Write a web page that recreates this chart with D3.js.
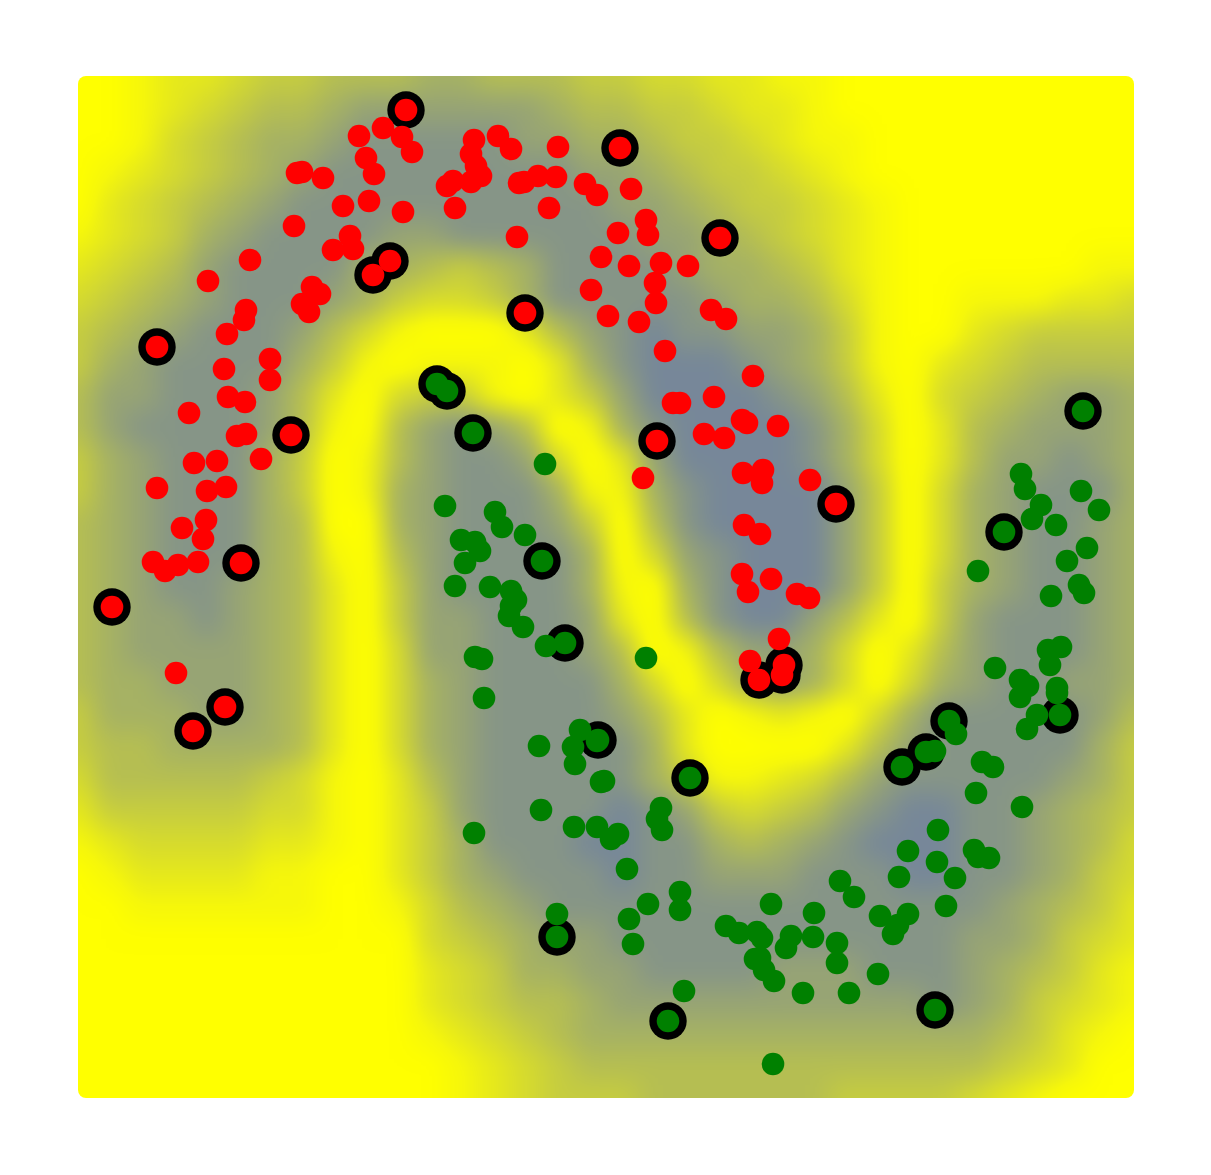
<!DOCTYPE html>
<html>
<head>
<meta charset="utf-8">
<script src="https://cdn.jsdelivr.net/npm/d3@7"></script>
<style>
html, body { margin: 0; padding: 0; background: #fff; }
svg { display: block; }
</style>
</head>
<body>
<div id="plot"></div>
<script>
// classifier field, one digit per sample
// 0 = on the margin (slate grey), 9 = far from it or on the boundary (yellow)
var fieldRows = [
"9987765544433444556677889999999999",
"9987654432222223445567789999999999",
"9986543321111122334556788999999999",
"9876543211111111223455678999999999",
"9765432111111111122345567899999999",
"8765321111221111112234567899999999",
"7654211113345431111233457899999988",
"6543211123566531111123346899888776",
"5432111246899974210112235899765555",
"5321111358988897310001235897654444",
"4221112479655897520000124796543223",
"4211112489421249831000013697432223",
"5321113598421126972000013697422123",
"5321113598321113883100002596321113",
"4321113499321112594100002596321123",
"4321113489421111396210002596321123",
"4321123479521111389310002595321123",
"4322123479522111279410024795211123",
"4322223479622111249842236974211123",
"4332223479632111136963236963211223",
"5333223479632111124798789631111124",
"5443333479632111113799997421111135",
"6444445689742111113588764211111235",
"7555556689752111101256542100112345",
"8766667789753111001134321000112346",
"9877778899753211101122211100112356",
"9988888899864321111111111111123457",
"9999999999965432211111111111223567",
"9999999999976533221111222111234578",
"9999999999976544322222222221235678",
"9999999999987654333333333333345789",
"9999999999998765444444444444456799",
"9999999999998765554444445555678999"
];

// points of the two moons, [x, y], in plot units
var redPoints = [
[281,962],[305,970],[324,961],[334,946],[288,940],[296,924],[219,925],[224,926],[245,920],[265,892],
[291,897],[325,886],[216,872],[272,862],[255,848],[275,849],[172,838],[130,817],[234,811],[242,804],
[224,794],[231,786],[168,788],[166,778],[149,764],[192,739],[146,729],[192,718],[150,701],[167,696],
[111,685],[159,662],[168,664],[183,639],[116,635],[139,637],[79,610],[129,607],[148,611],[128,578],
[104,570],[125,559],[75,536],[87,527],[100,533],[120,536],[98,425],[396,958],[420,962],[433,949],
[393,944],[398,932],[403,922],[393,916],[375,917],[369,912],[377,890],[441,915],[446,916],[460,922],
[478,921],[480,951],[507,914],[519,903],[553,909],[471,890],[439,861],[568,878],[540,865],[570,863],
[523,841],[551,832],[583,835],[610,832],[577,815],[513,808],[578,795],[530,782],[561,776],[633,788],
[648,779],[587,747],[675,722],[595,695],[602,695],[636,701],[664,678],[669,675],[700,672],[626,664],
[646,660],[565,620],[665,625],[685,628],[684,615],[732,618],[666,573],[682,564],[664,524],[693,519],
[670,506],[719,504],[731,500],[701,459],[672,437]
];
var redSupport = [
[328,988],[542,950],[642,860],[312,837],[295,823],[447,785],[79,751],[213,663],[579,657],[758,594],
[163,535],[34,491],[147,391],[115,367],[681,418],[706,433],[704,423]
];
var greenPoints = [
[467,634],[367,592],[417,586],[424,571],[447,563],[383,558],[397,556],[402,547],[387,535],[377,512],
[412,511],[433,507],[438,498],[433,492],[431,482],[445,471],[468,452],[397,441],[404,439],[568,440],
[406,400],[461,352],[495,351],[502,368],[497,334],[519,357],[523,316],[526,317],[463,288],[396,265],
[496,271],[519,271],[540,264],[533,259],[583,290],[579,279],[584,268],[549,229],[602,206],[602,188],
[570,194],[551,179],[479,184],[555,154],[606,107],[648,172],[661,165],[679,166],[684,160],[693,194],
[713,162],[708,150],[735,161],[736,185],[759,155],[759,135],[762,217],[776,201],[677,139],[682,140],
[686,128],[696,117],[725,105],[771,105],[800,124],[802,182],[815,164],[820,173],[830,184],[821,221],
[830,247],[860,268],[859,236],[877,220],[868,192],[896,248],[900,241],[911,240],[898,305],[904,336],
[915,331],[944,291],[695,34],[857,347],[878,364],[949,369],[959,383],[942,401],[942,418],[950,412],
[979,410],[979,405],[917,430],[972,433],[970,448],[983,451],[900,527],[973,502],[1001,513],[1006,505],
[989,537],[1009,550],[978,573],[954,579],[963,593],[943,624],[947,609],[1003,607],[1021,588]
];
var greenSupport = [
[359,714],[369,707],[395,665],[1005,687],[926,566],[464,537],[487,455],[982,383],[871,377],[848,346],
[824,331],[520,358],[612,320],[479,161],[590,77],[857,88]
];

// set the dimensions and margins of the graph
var margin = {top: 76, right: 77, bottom: 77, left: 78},
    width = 1211 - margin.left - margin.right,
    height = 1175 - margin.top - margin.bottom;

// set the ranges
var x = d3.scaleLinear().domain([0, 1056]).range([0, width]);
var y = d3.scaleLinear().domain([0, 1022]).range([height, 0]);
var level = d3.scaleLinear().domain([0, 9]).range(["#000000", "#ffffff"]);
var color = d3.scaleLinear().domain([0, 8.6]).range(["#778899", "#ffff00"]).clamp(true);

var svg = d3.select("#plot").append("svg")
    .attr("width", 1211)
    .attr("height", 1175)
  .append("g")
    .attr("transform", "translate(" + margin.left + "," + margin.top + ")");

var defs = svg.append("defs");
defs.append("clipPath").attr("id", "plot-area")
  .append("rect")
    .attr("width", width)
    .attr("height", height)
    .attr("rx", 8);

// the cells are drawn as grey levels, blurred, then the levels become colours
var soften = defs.append("filter").attr("id", "soften")
    .attr("filterUnits", "userSpaceOnUse")
    .attr("x", -80).attr("y", -80)
    .attr("width", width + 160).attr("height", height + 160)
    .attr("color-interpolation-filters", "sRGB");
soften.append("feGaussianBlur").attr("stdDeviation", 13);
var steps = d3.range(10).map(function(k) { return d3.rgb(color(k)); });
var transfer = soften.append("feComponentTransfer");
["R", "G", "B"].forEach(function(c) {
  transfer.append("feFunc" + c)
      .attr("type", "table")
      .attr("tableValues", steps.map(function(s) { return s[c.toLowerCase()] / 255; }).join(" "));
});

// flatten the digit rows into cells
var cells = [];
fieldRows.forEach(function(row, j) {
  row.split("").forEach(function(digit, i) {
    cells.push({col: i, row: j, value: +digit});
  });
});
var cols = fieldRows[0].length, rows = fieldRows.length;
var colX = d3.scaleLinear().domain([0, cols - 1]).range([0, width]);
var rowY = d3.scaleLinear().domain([0, rows - 1]).range([0, height]);
var cellW = colX(1) - colX(0), cellH = rowY(1) - rowY(0);
var bleed = 60; // outer cells run past the clip so the blur has no fade at the edge

// Add the field
svg.append("g").attr("clip-path", "url(#plot-area)")
  .append("g").attr("filter", "url(#soften)")
  .selectAll("rect")
    .data(cells)
  .enter().append("rect")
    .attr("x", function(d) { return colX(d.col) - cellW / 2 - (d.col === 0 ? bleed : 0); })
    .attr("y", function(d) { return rowY(d.row) - cellH / 2 - (d.row === 0 ? bleed : 0); })
    .attr("width", function(d) { return cellW + 0.5 + (d.col === 0 || d.col === cols - 1 ? bleed : 0); })
    .attr("height", function(d) { return cellH + 0.5 + (d.row === 0 || d.row === rows - 1 ? bleed : 0); })
    .attr("fill", function(d) { return level(d.value); });

// Add the rings of the support vectors, under every point
svg.append("g").selectAll("circle")
    .data(redSupport.concat(greenSupport))
  .enter().append("circle")
    .attr("r", 18.7)
    .attr("cx", function(d) { return x(d[0]); })
    .attr("cy", function(d) { return y(d[1]); })
    .attr("fill", "#000");

// Add the points
function addPoints(data, fill) {
  svg.append("g").selectAll("circle")
      .data(data)
    .enter().append("circle")
      .attr("r", 11.3)
      .attr("cx", function(d) { return x(d[0]); })
      .attr("cy", function(d) { return y(d[1]); })
      .attr("fill", fill);
}
addPoints(redPoints.concat(redSupport), "#ff0000");
addPoints(greenPoints.concat(greenSupport), "#008000");
</script>
</body>
</html>
